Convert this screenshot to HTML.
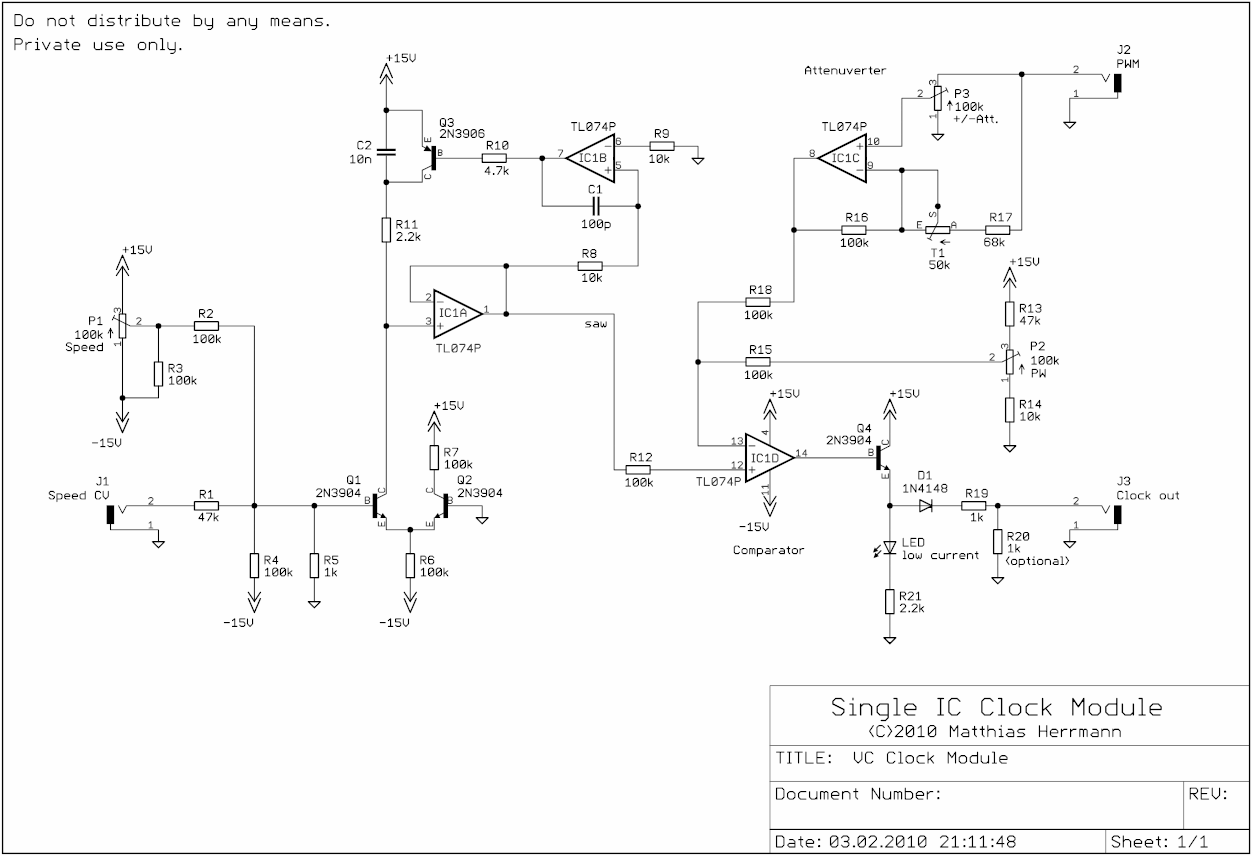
<!DOCTYPE html>
<html><head><meta charset="utf-8"><title>Single IC Clock Module</title>
<style>html,body{margin:0;padding:0;background:#fff;font-family:"Liberation Sans",sans-serif}svg{display:block}</style></head><body>
<svg width="1252" height="856" viewBox="0 0 1252 856">
<title>Single IC Clock Module</title><desc>Single IC Clock Module - (C)2010 Matthias Herrmann - TITLE: VC Clock Module - Document Number: - REV: - Date: 03.02.2010 21:11:48 - Sheet: 1/1. Do not distribute by any means. Private use only. Schematic: J1 Speed CV, P1 100k Speed, R1 47k, R2 100k, R3 100k, R4 100k, R5 1k, R6 100k, R7 100k, Q1 2N3904, Q2 2N3904, Q3 2N3906, C2 10n, R11 2.2k, R10 4.7k, IC1A IC1B IC1C IC1D TL074P, R9 10k, C1 100p, R8 10k, saw, R12 100k, Comparator, Q4 2N3904, D1 1N4148, R19 1k, R20 1k (optional), LED low current, R21 2.2k, J3 Clock out, R18 100k, R15 100k, R13 47k, P2 100k PW, R14 10k, Attenuverter, P3 100k +/-Att., R16 100k, T1 50k, R17 68k, J2 PWM, +15V, -15V</desc>
<defs><filter id="lin" x="0" y="0" width="100%" height="100%" color-interpolation-filters="sRGB"><feComponentTransfer><feFuncR type="gamma" exponent="0.4545"/><feFuncG type="gamma" exponent="0.4545"/><feFuncB type="gamma" exponent="0.4545"/></feComponentTransfer></filter></defs>
<g filter="url(#lin)">
<rect width="1252" height="856" fill="#fdfdfd"/>
<g fill="none" stroke-linecap="round" stroke-linejoin="round">
<path stroke="#222" stroke-width="0.90" d="M769.99 853.38L769.99 685.57L1249.60 685.57M769.99 745.50L1249.60 745.50M769.99 781.46L1249.60 781.46M1105.72 829.40L1105.72 853.38M1183.65 781.46L1183.65 829.40"/>
<path stroke="#000" stroke-width="1.1" d="M769.99 829.40L1249.60 829.40"/>
<path stroke="#000" stroke-width="1.12" d="M386.29 86.27L386.29 74.29M386.29 86.27L386.29 134.22M386.29 134.22L386.29 148.60M386.29 155.79L386.29 170.17M386.29 170.17L386.29 206.13M386.29 110.24L422.26 110.24L422.26 134.22M386.29 182.16L422.26 182.16M446.24 158.19L434.25 158.19M422.26 134.22L422.26 146.20M422.26 182.16L422.26 170.17M422.26 170.17L431.86 165.38M422.26 146.20L425.74 148.12M446.24 158.19L470.23 158.19M470.23 158.19L482.22 158.19M506.20 158.19L518.19 158.19M518.19 158.19L554.16 158.19M626.10 146.20L614.11 146.20M626.10 170.17L614.11 170.17M554.16 158.19L566.15 158.19M605.12 170.17L611.11 170.17M608.12 167.18L608.12 173.17M605.12 146.20L611.11 146.20M626.10 146.20L638.09 146.20M638.09 146.20L650.08 146.20M674.06 146.20L686.05 146.20M686.05 146.20L698.04 146.20M698.04 146.20L698.04 158.19M626.10 170.17L638.09 170.17L638.09 266.06L614.11 266.06M542.17 158.19L542.17 206.13M542.17 206.13L592.53 206.13M599.72 206.13L638.09 206.13M566.15 266.06L578.14 266.06M602.12 266.06L614.11 266.06M566.15 266.06L410.27 266.06L410.27 302.02L422.26 302.02M506.20 266.06L506.20 314.01M422.26 302.02L434.25 302.02M422.26 325.99L434.25 325.99M494.21 314.01L482.22 314.01M437.25 325.99L443.25 325.99M440.25 323.00L440.25 328.99M437.25 302.02L443.25 302.02M494.21 314.01L614.11 314.01L614.11 469.82M386.29 325.99L422.26 325.99M386.29 206.13L386.29 218.12M386.29 242.09L386.29 254.08M386.29 254.08L386.29 481.81M362.31 505.78L374.30 505.78M386.29 481.81L386.29 493.80M386.29 529.75L386.29 517.77M386.29 493.80L376.70 498.59M381.57 515.41L375.74 512.49M458.24 505.78L446.24 505.78M434.25 481.81L434.25 493.80M434.25 529.75L434.25 517.77M434.25 493.80L443.85 498.59M438.98 515.41L444.81 512.49M386.29 529.75L434.25 529.75M410.27 529.75L410.27 541.74M410.27 541.74L410.27 553.73M410.27 577.70L410.27 589.68M410.27 589.68L410.27 601.67M434.25 433.87L434.25 445.85M434.25 469.82L434.25 481.81M434.25 433.87L434.25 421.88M458.24 505.78L482.22 505.78M482.22 505.78L482.22 517.77M146.48 505.78L126.46 505.78M126.46 505.78L122.50 513.21L118.55 505.78M146.48 529.75L110.51 529.75L110.51 523.76M146.48 505.78L182.46 505.78M182.46 505.78L194.45 505.78M218.43 505.78L230.42 505.78M230.42 505.78L362.31 505.78M146.48 529.75L158.48 529.75M158.48 529.75L158.48 541.74M254.40 541.74L254.40 553.73M254.40 577.70L254.40 589.68M254.40 589.68L254.40 601.67M314.35 505.78L314.35 541.74M314.35 541.74L314.35 553.73M314.35 577.70L314.35 589.68M314.35 589.68L314.35 601.67M122.50 302.02L122.50 314.01M122.50 349.96L122.50 337.98M146.48 325.99L130.30 325.99M130.30 325.99L113.63 317.72M112.31 319.88L114.47 315.44M110.51 337.98L110.51 328.39M108.12 333.18L110.51 328.39L112.91 333.18M122.50 278.05L122.50 266.06M122.50 278.05L122.50 302.02M122.50 349.96L122.50 409.89M122.50 409.89L122.50 421.88M146.48 325.99L182.46 325.99M182.46 325.99L194.45 325.99M218.43 325.99L230.42 325.99M230.42 325.99L254.40 325.99L254.40 541.74M158.48 325.99L158.48 349.96M158.48 349.96L158.48 361.95M158.48 385.92L158.48 397.91M158.48 397.91L122.50 397.91M614.11 469.82L626.10 469.82M650.08 469.82L662.07 469.82M662.07 469.82L734.01 469.82M734.01 445.85L746.00 445.85M734.01 469.82L746.00 469.82M805.96 457.84L793.97 457.84M749.00 469.82L755.00 469.82M752.00 466.83L752.00 472.82M749.00 445.85L755.00 445.85M769.99 421.88L769.99 445.85M769.99 493.80L769.99 469.82M769.99 421.88L769.99 409.89M769.99 493.80L769.99 505.78M805.96 457.84L865.91 457.84M865.91 457.84L877.90 457.84M889.89 433.87L889.89 445.85M889.89 481.81L889.89 469.82M889.89 445.85L880.30 450.65M885.17 467.46L879.34 464.55M889.89 421.88L889.89 409.89M889.89 421.88L889.89 433.87M889.89 481.81L889.89 529.75M889.89 529.75L889.89 541.74M889.89 553.73L889.89 565.71M889.89 541.74L889.89 553.73M889.89 565.71L889.89 577.70M889.89 577.70L889.89 589.68M889.89 613.66L889.89 625.64M889.89 625.64L889.89 637.63M889.89 505.78L901.88 505.78M901.88 505.78L949.84 505.78M949.84 505.78L961.83 505.78M985.81 505.78L997.80 505.78M997.80 505.78L1081.74 505.78M997.80 505.78L997.80 517.77M997.80 517.77L997.80 529.75M997.80 553.73L997.80 565.71M997.80 565.71L997.80 577.70M1081.74 505.78L1101.76 505.78M1101.76 505.78L1105.72 513.21L1109.67 505.78M1081.74 529.75L1117.71 529.75L1117.71 523.76M1081.74 529.75L1069.75 529.75M1069.75 529.75L1069.75 541.74M734.01 445.85L698.04 445.85L698.04 302.02L734.01 302.02M734.01 302.02L746.00 302.02M769.99 302.02L781.98 302.02M781.98 302.02L793.97 302.02L793.97 158.19L805.96 158.19M698.04 361.95L734.01 361.95M734.01 361.95L746.00 361.95M769.99 361.95L781.98 361.95M781.98 361.95L985.81 361.95M1009.79 337.98L1009.79 349.96M1009.79 385.92L1009.79 373.94M985.81 361.95L1002.00 361.95M1002.00 361.95L1018.67 353.68M1019.99 355.84L1017.83 351.40M1021.78 373.94L1021.78 364.35M1019.39 369.14L1021.78 364.35L1024.18 369.14M1009.79 290.03L1009.79 302.02M1009.79 325.99L1009.79 337.98M1009.79 290.03L1009.79 278.05M1009.79 385.92L1009.79 397.91M1009.79 421.88L1009.79 433.87M1009.79 433.87L1009.79 445.85M877.90 146.20L865.91 146.20M877.90 170.17L865.91 170.17M805.96 158.19L817.95 158.19M856.92 146.20L862.91 146.20M859.91 143.21L859.91 149.20M856.92 170.17L862.91 170.17M877.90 146.20L901.88 146.20L901.88 98.26L913.87 98.26M937.85 74.29L937.85 86.27M937.85 122.23L937.85 110.24M913.87 98.26L930.06 98.26M930.06 98.26L946.72 89.99M948.04 92.15L945.88 87.71M949.84 110.24L949.84 100.66M947.44 105.45L949.84 100.66L952.24 105.45M937.85 122.23L937.85 134.22M937.85 74.29L1081.74 74.29M1081.74 74.29L1101.76 74.29M1101.76 74.29L1105.72 81.72L1109.67 74.29M1081.74 98.26L1117.71 98.26L1117.71 92.27M1081.74 98.26L1069.75 98.26L1069.75 110.24M1069.75 110.24L1069.75 122.23M1021.78 74.29L1021.78 230.10M973.82 230.10L985.81 230.10M1009.79 230.10L1021.78 230.10M961.83 230.10L973.82 230.10M913.87 230.10L925.86 230.10M961.83 230.10L949.84 230.10M937.85 206.13L937.85 222.31M937.85 222.31L929.58 238.97M927.30 238.01L931.74 240.29M949.84 242.09L940.25 242.09M945.05 239.69L940.25 242.09L945.05 244.49M937.85 206.13L937.85 170.17L877.90 170.17M901.88 170.17L901.88 230.10M913.87 230.10L877.90 230.10M829.94 230.10L841.93 230.10M865.91 230.10L877.90 230.10M829.94 230.10L793.97 230.10"/>
<path stroke="#000" stroke-width="1.50" d="M380.30 83.64L386.29 74.65L392.29 83.64M380.30 77.64L386.29 63.50L392.29 77.64M482.22 154.05L506.20 154.05L506.20 162.32L482.22 162.32ZM650.08 142.07L674.06 142.07L674.06 150.34L650.08 150.34ZM692.05 158.19L704.04 158.19L698.04 164.18ZM578.14 261.93L602.12 261.93L602.12 270.20L578.14 270.20ZM382.16 218.12L390.43 218.12L390.43 242.09L382.16 242.09ZM406.14 553.73L414.41 553.73L414.41 577.70L406.14 577.70ZM404.28 592.32L410.27 601.43L416.27 592.32M404.28 598.67L410.27 612.46L416.27 598.67M430.12 445.85L438.39 445.85L438.39 469.82L430.12 469.82ZM428.26 431.23L434.25 422.24L440.25 431.23M428.26 425.24L434.25 411.09L440.25 425.24M476.22 517.77L488.21 517.77L482.22 523.76ZM194.45 501.65L218.43 501.65L218.43 509.92L194.45 509.92ZM152.48 541.74L164.47 541.74L158.48 547.73ZM250.26 553.73L258.54 553.73L258.54 577.70L250.26 577.70ZM248.40 592.32L254.40 601.43L260.39 592.32M248.40 598.67L254.40 612.46L260.39 598.67M310.21 553.73L318.49 553.73L318.49 577.70L310.21 577.70ZM308.36 601.67L320.35 601.67L314.35 607.66ZM119.21 314.01L125.80 314.01L125.80 337.98L119.21 337.98ZM116.51 275.41L122.50 266.42L128.50 275.41M116.51 269.42L122.50 255.27L128.50 269.42M116.51 412.53L122.50 421.64L128.50 412.53M116.51 418.88L122.50 432.67L128.50 418.88M194.45 321.86L218.43 321.86L218.43 330.13L194.45 330.13ZM154.34 361.95L162.61 361.95L162.61 385.92L154.34 385.92ZM626.10 465.69L650.08 465.69L650.08 473.96L626.10 473.96ZM763.99 419.24L769.99 410.25L775.98 419.24M763.99 413.25L769.99 399.11L775.98 413.25M763.99 496.43L769.99 505.54L775.98 496.43M763.99 502.79L769.99 516.57L775.98 502.79M883.89 419.24L889.89 410.25L895.88 419.24M883.89 413.25L889.89 399.11L895.88 413.25M883.89 541.74L895.88 541.74L889.89 553.73ZM883.89 553.73L895.88 553.73M880.30 545.34L874.30 551.33M880.90 550.73L874.90 556.72M885.75 589.68L894.03 589.68L894.03 613.66L885.75 613.66ZM883.89 637.63L895.88 637.63L889.89 643.62ZM919.87 499.79L931.86 505.78L919.87 511.78ZM931.86 499.79L931.86 511.78M961.83 501.65L985.81 501.65L985.81 509.92L961.83 509.92ZM993.67 529.75L1001.94 529.75L1001.94 553.73L993.67 553.73ZM991.81 577.70L1003.80 577.70L997.80 583.69ZM1063.75 541.74L1075.74 541.74L1069.75 547.73ZM746.00 297.88L769.99 297.88L769.99 306.16L746.00 306.16ZM746.00 357.81L769.99 357.81L769.99 366.09L746.00 366.09ZM1006.50 349.96L1013.09 349.96L1013.09 373.94L1006.50 373.94ZM1005.66 302.02L1013.93 302.02L1013.93 325.99L1005.66 325.99ZM1003.80 287.40L1009.79 278.41L1015.79 287.40M1003.80 281.40L1009.79 267.26L1015.79 281.40M1005.66 397.91L1013.93 397.91L1013.93 421.88L1005.66 421.88ZM1003.80 445.85L1015.79 445.85L1009.79 451.85ZM934.55 86.27L941.15 86.27L941.15 110.24L934.55 110.24ZM931.86 134.22L943.85 134.22L937.85 140.21ZM1063.75 122.23L1075.74 122.23L1069.75 128.22ZM985.81 225.97L1009.79 225.97L1009.79 234.24L985.81 234.24ZM925.86 226.81L949.84 226.81L949.84 233.40L925.86 233.40ZM841.93 225.97L865.91 225.97L865.91 234.24L841.93 234.24Z"/>
<path stroke="#000" stroke-width="2.15" stroke-linejoin="miter" d="M614.11 134.22L614.11 182.16L566.15 158.19ZM434.25 290.03L434.25 337.98L482.22 314.01ZM746.00 433.87L746.00 481.81L793.97 457.84ZM865.91 134.22L865.91 182.16L817.95 158.19Z"/>
<path stroke="#000" stroke-width="1.30" d="M14.95 25.70L14.95 14.70L20.45 14.70L22.28 16.53L22.28 23.87L20.45 25.70L14.95 25.70M27.79 25.70L31.45 25.70L33.29 23.87L33.29 20.20L31.45 18.37L27.79 18.37L25.95 20.20L25.95 23.87L27.79 25.70M47.95 25.70L47.95 18.37M47.95 20.20L49.79 18.37L53.46 18.37L55.29 20.20L55.29 25.70M60.79 25.70L64.46 25.70L66.29 23.87L66.29 20.20L64.46 18.37L60.79 18.37L58.96 20.20L58.96 23.87L60.79 25.70M72.16 15.43L72.16 23.87L73.99 25.70M69.96 18.37L74.18 18.37M96.00 14.70L96.00 25.70L90.49 25.70L88.66 23.87L88.66 20.20L90.49 18.37L96.00 18.37M100.03 18.37L102.05 18.37L102.05 25.70M100.03 25.70L104.06 25.70M102.05 15.62L102.05 14.52M114.51 18.37L109.01 18.37L107.18 20.20L109.01 22.03L112.68 22.03L114.51 23.87L112.68 25.70L107.18 25.70M120.38 15.43L120.38 23.87L122.22 25.70M118.18 18.37L122.40 18.37M125.88 25.70L125.88 18.37M125.88 20.93L128.45 18.37L131.38 18.37M135.42 18.37L137.43 18.37L137.43 25.70M135.42 25.70L139.45 25.70M137.43 15.62L137.43 14.52M142.57 14.70L142.57 25.70L148.07 25.70L149.90 23.87L149.90 20.20L148.07 18.37L142.57 18.37M153.57 18.37L153.57 23.87L155.40 25.70L159.07 25.70L160.90 23.87M160.90 18.37L160.90 25.70M166.77 15.43L166.77 23.87L168.61 25.70M164.57 18.37L168.79 18.37M172.27 22.03L179.61 22.03L179.61 20.20L177.77 18.37L174.11 18.37L172.27 20.20L172.27 23.87L174.11 25.70L178.87 25.70M194.28 14.70L194.28 25.70L199.78 25.70L201.61 23.87L201.61 20.20L199.78 18.37L194.28 18.37M205.28 18.37L205.28 23.87L207.11 25.70L212.61 25.70M212.61 18.37L212.61 27.53L210.78 29.37L208.03 29.37M229.11 18.37L232.78 18.37L234.62 20.20L234.62 25.70L229.11 25.70L227.28 23.87L229.11 22.03L234.62 22.03M238.28 25.70L238.28 18.37M238.28 20.20L240.12 18.37L243.78 18.37L245.62 20.20L245.62 25.70M249.28 18.37L249.28 23.87L251.12 25.70L256.62 25.70M256.62 18.37L256.62 27.53L254.78 29.37L252.03 29.37M271.29 25.70L271.29 18.37L273.85 18.37L274.95 19.47L274.95 25.70M274.95 19.47L276.05 18.37L277.52 18.37L278.62 19.47L278.62 25.70M282.29 22.03L289.62 22.03L289.62 20.20L287.79 18.37L284.12 18.37L282.29 20.20L282.29 23.87L284.12 25.70L288.89 25.70M295.12 18.37L298.79 18.37L300.62 20.20L300.62 25.70L295.12 25.70L293.29 23.87L295.12 22.03L300.62 22.03M304.29 25.70L304.29 18.37M304.29 20.20L306.13 18.37L309.79 18.37L311.63 20.20L311.63 25.70M322.63 18.37L317.13 18.37L315.29 20.20L317.13 22.03L320.79 22.03L322.63 23.87L320.79 25.70L315.29 25.70M327.25 25.66L328.28 25.66L328.28 24.64L327.25 24.64L327.25 25.66M14.95 49.67L14.95 38.67L20.45 38.67L22.28 40.50L22.28 42.34L20.45 44.17L14.95 44.17M25.95 49.67L25.95 42.34M25.95 44.90L28.52 42.34L31.45 42.34M35.49 42.34L37.50 42.34L37.50 49.67M35.49 49.67L39.52 49.67M37.50 39.59L37.50 38.49M42.64 42.34L46.30 49.67L49.97 42.34M55.47 42.34L59.14 42.34L60.97 44.17L60.97 49.67L55.47 49.67L53.64 47.84L55.47 46.00L60.97 46.00M66.84 39.40L66.84 47.84L68.67 49.67M64.64 42.34L68.86 42.34M72.34 46.00L79.68 46.00L79.68 44.17L77.84 42.34L74.18 42.34L72.34 44.17L72.34 47.84L74.18 49.67L78.94 49.67M94.34 42.34L94.34 47.84L96.18 49.67L99.85 49.67L101.68 47.84M101.68 42.34L101.68 49.67M112.68 42.34L107.18 42.34L105.35 44.17L107.18 46.00L110.85 46.00L112.68 47.84L110.85 49.67L105.35 49.67M116.35 46.00L123.68 46.00L123.68 44.17L121.85 42.34L118.18 42.34L116.35 44.17L116.35 47.84L118.18 49.67L122.95 49.67M140.18 49.67L143.85 49.67L145.69 47.84L145.69 44.17L143.85 42.34L140.18 42.34L138.35 44.17L138.35 47.84L140.18 49.67M149.35 49.67L149.35 42.34M149.35 44.17L151.19 42.34L154.85 42.34L156.69 44.17L156.69 49.67M160.54 38.67L162.55 38.67L162.55 49.67M160.54 49.67L164.57 49.67M167.87 42.34L167.87 47.84L169.71 49.67L175.21 49.67M175.21 42.34L175.21 51.50L173.37 53.34L170.62 53.34M179.83 49.63L180.85 49.63L180.85 48.61L179.83 48.61L179.83 49.63M873.27 725.60L869.60 731.10L873.27 736.60M884.29 727.43L882.45 725.60L878.78 725.60L876.94 727.43L876.94 734.77L878.78 736.60L882.45 736.60L884.29 734.77M887.96 725.60L891.63 731.10L887.96 736.60M895.30 727.43L897.14 725.60L900.81 725.60L902.65 727.43L902.65 729.27L895.30 736.60L902.65 736.60M908.15 736.60L911.83 736.60L913.66 734.77L913.66 727.43L911.83 725.60L908.15 725.60L906.32 727.43L906.32 734.77L908.15 736.60M906.32 734.77L913.66 727.43M918.07 728.17L921.19 725.60L921.19 736.60M918.07 736.60L924.31 736.60M930.18 736.60L933.86 736.60L935.69 734.77L935.69 727.43L933.86 725.60L930.18 725.60L928.35 727.43L928.35 734.77L930.18 736.60M928.35 734.77L935.69 727.43M950.38 736.60L950.38 725.60L954.05 731.10L957.72 725.60L957.72 736.60M963.23 729.27L966.90 729.27L968.74 731.10L968.74 736.60L963.23 736.60L961.39 734.77L963.23 732.93L968.74 732.93M974.61 726.33L974.61 734.77L976.45 736.60M972.41 729.27L976.63 729.27M982.32 726.33L982.32 734.77L984.16 736.60M980.12 729.27L984.34 729.27M987.83 725.60L987.83 736.60M987.83 731.10L989.67 729.27L993.34 729.27L995.18 731.10L995.18 736.60M999.21 729.27L1001.23 729.27L1001.23 736.60M999.21 736.60L1003.25 736.60M1001.23 726.52L1001.23 725.42M1008.21 729.27L1011.88 729.27L1013.72 731.10L1013.72 736.60L1008.21 736.60L1006.37 734.77L1008.21 732.93L1013.72 732.93M1024.73 729.27L1019.23 729.27L1017.39 731.10L1019.23 732.93L1022.90 732.93L1024.73 734.77L1022.90 736.60L1017.39 736.60M1039.42 736.60L1039.42 725.60M1046.76 736.60L1046.76 725.60M1039.42 731.10L1046.76 731.10M1050.44 732.93L1057.78 732.93L1057.78 731.10L1055.94 729.27L1052.27 729.27L1050.44 731.10L1050.44 734.77L1052.27 736.60L1057.05 736.60M1061.45 736.60L1061.45 729.27M1061.45 731.83L1064.02 729.27L1066.96 729.27M1070.63 736.60L1070.63 729.27M1070.63 731.83L1073.20 729.27L1076.14 729.27M1079.81 736.60L1079.81 729.27L1082.38 729.27L1083.48 730.37L1083.48 736.60M1083.48 730.37L1084.58 729.27L1086.05 729.27L1087.15 730.37L1087.15 736.60M1092.66 729.27L1096.33 729.27L1098.17 731.10L1098.17 736.60L1092.66 736.60L1090.83 734.77L1092.66 732.93L1098.17 732.93M1101.84 736.60L1101.84 729.27M1101.84 731.10L1103.68 729.27L1107.35 729.27L1109.18 731.10L1109.18 736.60M1112.86 736.60L1112.86 729.27M1112.86 731.10L1114.69 729.27L1118.36 729.27L1120.20 731.10L1120.20 736.60M776.58 752.08L783.92 752.08M780.25 752.08L780.25 763.08M787.58 752.08L791.25 752.08M789.42 752.08L789.42 763.08M787.58 763.08L791.25 763.08M794.92 752.08L802.25 752.08M798.58 752.08L798.58 763.08M805.92 752.08L805.92 763.08L813.25 763.08M824.25 752.08L816.92 752.08L816.92 763.08L824.25 763.08M816.92 757.58L822.42 757.58M829.24 762.68L830.27 762.68L830.27 761.65L829.24 761.65L829.24 762.68M829.24 756.26L830.27 756.26L830.27 755.23L829.24 755.23L829.24 756.26M854.52 752.08L854.52 759.41L858.19 763.08L861.85 759.41L861.85 752.08M872.85 753.91L871.02 752.08L867.35 752.08L865.52 753.91L865.52 761.25L867.35 763.08L871.02 763.08L872.85 761.25M894.86 753.91L893.02 752.08L889.36 752.08L887.52 753.91L887.52 761.25L889.36 763.08L893.02 763.08L894.86 761.25M898.71 752.08L900.73 752.08L900.73 763.08M898.71 763.08L902.74 763.08M907.88 763.08L911.54 763.08L913.38 761.25L913.38 757.58L911.54 755.75L907.88 755.75L906.04 757.58L906.04 761.25L907.88 763.08M924.38 755.75L918.88 755.75L917.04 757.58L917.04 761.25L918.88 763.08L924.38 763.08M928.05 752.08L928.05 763.08M928.05 760.15L933.55 755.75M930.06 758.50L933.55 763.08M948.22 763.08L948.22 752.08L951.88 757.58L955.55 752.08L955.55 763.08M961.05 763.08L964.72 763.08L966.55 761.25L966.55 757.58L964.72 755.75L961.05 755.75L959.22 757.58L959.22 761.25L961.05 763.08M977.55 752.08L977.55 763.08L972.05 763.08L970.22 761.25L970.22 757.58L972.05 755.75L977.55 755.75M981.22 755.75L981.22 761.25L983.05 763.08L986.72 763.08L988.55 761.25M988.55 755.75L988.55 763.08M992.41 752.08L994.42 752.08L994.42 763.08M992.41 763.08L996.44 763.08M999.74 759.41L1007.07 759.41L1007.07 757.58L1005.24 755.75L1001.57 755.75L999.74 757.58L999.74 761.25L1001.57 763.08L1006.34 763.08M776.58 799.04L776.58 788.04L782.08 788.04L783.92 789.87L783.92 797.21L782.08 799.04L776.58 799.04M789.42 799.04L793.08 799.04L794.92 797.21L794.92 793.54L793.08 791.70L789.42 791.70L787.58 793.54L787.58 797.21L789.42 799.04M805.92 791.70L800.42 791.70L798.58 793.54L798.58 797.21L800.42 799.04L805.92 799.04M809.59 791.70L809.59 797.21L811.42 799.04L815.09 799.04L816.92 797.21M816.92 791.70L816.92 799.04M820.59 799.04L820.59 791.70L823.15 791.70L824.25 792.80L824.25 799.04M824.25 792.80L825.35 791.70L826.82 791.70L827.92 792.80L827.92 799.04M831.59 795.37L838.92 795.37L838.92 793.54L837.09 791.70L833.42 791.70L831.59 793.54L831.59 797.21L833.42 799.04L838.19 799.04M842.59 799.04L842.59 791.70M842.59 793.54L844.42 791.70L848.09 791.70L849.92 793.54L849.92 799.04M855.79 788.77L855.79 797.21L857.63 799.04M853.59 791.70L857.81 791.70M872.29 799.04L872.29 788.04L879.63 799.04L879.63 788.04M883.30 791.70L883.30 797.21L885.13 799.04L888.80 799.04L890.63 797.21M890.63 791.70L890.63 799.04M894.30 799.04L894.30 791.70L896.86 791.70L897.97 792.80L897.97 799.04M897.97 792.80L899.07 791.70L900.53 791.70L901.63 792.80L901.63 799.04M905.30 788.04L905.30 799.04L910.80 799.04L912.63 797.21L912.63 793.54L910.80 791.70L905.30 791.70M916.30 795.37L923.64 795.37L923.64 793.54L921.80 791.70L918.13 791.70L916.30 793.54L916.30 797.21L918.13 799.04L922.90 799.04M927.30 799.04L927.30 791.70M927.30 794.27L929.87 791.70L932.80 791.70M937.79 798.64L938.82 798.64L938.82 797.61L937.79 797.61L937.79 798.64M937.79 792.22L938.82 792.22L938.82 791.19L937.79 791.19L937.79 792.22M1190.25 799.04L1190.25 788.04L1195.75 788.04L1197.58 789.87L1197.58 791.70L1195.75 793.54L1190.25 793.54M1193.00 793.54L1197.58 799.04M1208.59 788.04L1201.25 788.04L1201.25 799.04L1208.59 799.04M1201.25 793.54L1206.75 793.54M1212.25 788.04L1212.25 795.37L1215.92 799.04L1219.59 795.37L1219.59 788.04M1224.57 798.64L1225.60 798.64L1225.60 797.61L1224.57 797.61L1224.57 798.64M1224.57 792.22L1225.60 792.22L1225.60 791.19L1224.57 791.19L1224.57 792.22M776.58 846.98L776.58 835.98L782.08 835.98L783.92 837.82L783.92 845.15L782.08 846.98L776.58 846.98M789.42 839.65L793.08 839.65L794.92 841.48L794.92 846.98L789.42 846.98L787.58 845.15L789.42 843.32L794.92 843.32M800.78 836.71L800.78 845.15L802.62 846.98M798.58 839.65L802.80 839.65M806.29 843.32L813.62 843.32L813.62 841.48L811.79 839.65L808.12 839.65L806.29 841.48L806.29 845.15L808.12 846.98L812.89 846.98M818.61 846.58L819.63 846.58L819.63 845.55L818.61 845.55L818.61 846.58M818.61 840.16L819.63 840.16L819.63 839.14L818.61 839.14L818.61 840.16M832.37 846.98L836.04 846.98L837.87 845.15L837.87 837.82L836.04 835.98L832.37 835.98L830.54 837.82L830.54 845.15L832.37 846.98M830.54 845.15L837.87 837.82M841.54 837.82L843.37 835.98L847.04 835.98L848.87 837.82L848.87 839.65L847.04 841.48L844.29 841.48M847.04 841.48L848.87 843.32L848.87 845.15L847.04 846.98L843.37 846.98L841.54 845.15M853.49 846.95L854.52 846.95L854.52 845.92L853.49 845.92L853.49 846.95M859.88 846.98L863.54 846.98L865.38 845.15L865.38 837.82L863.54 835.98L859.88 835.98L858.04 837.82L858.04 845.15L859.88 846.98M858.04 845.15L865.38 837.82M869.04 837.82L870.88 835.98L874.54 835.98L876.38 837.82L876.38 839.65L869.04 846.98L876.38 846.98M881.00 846.95L882.03 846.95L882.03 845.92L881.00 845.92L881.00 846.95M885.55 837.82L887.38 835.98L891.05 835.98L892.88 837.82L892.88 839.65L885.55 846.98L892.88 846.98M898.38 846.98L902.05 846.98L903.88 845.15L903.88 837.82L902.05 835.98L898.38 835.98L896.55 837.82L896.55 845.15L898.38 846.98M896.55 845.15L903.88 837.82M908.28 838.55L911.40 835.98L911.40 846.98M908.28 846.98L914.52 846.98M920.38 846.98L924.05 846.98L925.88 845.15L925.88 837.82L924.05 835.98L920.38 835.98L918.55 837.82L918.55 845.15L920.38 846.98M918.55 845.15L925.88 837.82M940.55 837.82L942.39 835.98L946.05 835.98L947.89 837.82L947.89 839.65L940.55 846.98L947.89 846.98M952.29 838.55L955.41 835.98L955.41 846.98M952.29 846.98L958.52 846.98M963.88 846.58L964.90 846.58L964.90 845.55L963.88 845.55L963.88 846.58M963.88 840.16L964.90 840.16L964.90 839.14L963.88 839.14L963.88 840.16M969.34 838.55L972.46 835.98L972.46 846.98M969.34 846.98L975.58 846.98M980.34 838.55L983.46 835.98L983.46 846.98M980.34 846.98L986.58 846.98M991.93 846.58L992.96 846.58L992.96 845.55L991.93 845.55L991.93 846.58M991.93 840.16L992.96 840.16L992.96 839.14L991.93 839.14L991.93 840.16M1002.16 846.98L1002.16 835.98L996.66 843.68L1004.00 843.68M1009.50 841.48L1007.66 839.65L1007.66 837.82L1009.50 835.98L1013.16 835.98L1015.00 837.82L1015.00 839.65L1013.16 841.48L1009.50 841.48L1007.66 843.32L1007.66 845.15L1009.50 846.98L1013.16 846.98L1015.00 845.15L1015.00 843.32L1013.16 841.48M1119.65 837.82L1117.81 835.98L1114.15 835.98L1112.31 837.82L1112.31 839.65L1119.65 843.32L1119.65 845.15L1117.81 846.98L1114.15 846.98L1112.31 845.15M1123.31 835.98L1123.31 846.98M1123.31 841.48L1125.15 839.65L1128.81 839.65L1130.65 841.48L1130.65 846.98M1134.32 843.32L1141.65 843.32L1141.65 841.48L1139.82 839.65L1136.15 839.65L1134.32 841.48L1134.32 845.15L1136.15 846.98L1140.92 846.98M1145.32 843.32L1152.65 843.32L1152.65 841.48L1150.82 839.65L1147.15 839.65L1145.32 841.48L1145.32 845.15L1147.15 846.98L1151.92 846.98M1158.52 836.71L1158.52 845.15L1160.35 846.98M1156.32 839.65L1160.54 839.65M1165.34 846.58L1166.37 846.58L1166.37 845.55L1165.34 845.55L1165.34 846.58M1165.34 840.16L1166.37 840.16L1166.37 839.14L1165.34 839.14L1165.34 840.16M1178.99 838.55L1182.11 835.98L1182.11 846.98M1178.99 846.98L1185.23 846.98M1189.26 846.98L1196.60 835.98M1201.00 838.55L1204.11 835.98L1204.11 846.98M1201.00 846.98L1207.23 846.98"/>
<path stroke="#000" stroke-width="1.60" d="M843.89 701.25L841.15 698.50L835.65 698.50L832.90 701.25L832.90 704.00L843.89 709.50L843.89 712.25L841.15 715.00L835.65 715.00L832.90 712.25M849.94 704.00L852.97 704.00L852.97 715.00M849.94 715.00L855.99 715.00M852.97 699.87L852.97 698.22M860.66 715.00L860.66 704.00M860.66 706.75L863.41 704.00L868.91 704.00L871.66 706.75L871.66 715.00M888.15 715.00L879.90 715.00L877.15 712.25L877.15 706.75L879.90 704.00L888.15 704.00L888.15 717.75L885.40 720.50L881.28 720.50M893.92 698.50L896.95 698.50L896.95 715.00M893.92 715.00L899.97 715.00M904.92 709.50L915.91 709.50L915.91 706.75L913.16 704.00L907.67 704.00L904.92 706.75L904.92 712.25L907.67 715.00L914.81 715.00M937.90 698.50L943.40 698.50M940.65 698.50L940.65 715.00M937.90 715.00L943.40 715.00M959.89 701.25L957.14 698.50L951.65 698.50L948.90 701.25L948.90 712.25L951.65 715.00L957.14 715.00L959.89 712.25M992.88 701.25L990.13 698.50L984.63 698.50L981.88 701.25L981.88 712.25L984.63 715.00L990.13 715.00L992.88 712.25M998.65 698.50L1001.67 698.50L1001.67 715.00M998.65 715.00L1004.70 715.00M1012.39 715.00L1017.89 715.00L1020.64 712.25L1020.64 706.75L1017.89 704.00L1012.39 704.00L1009.64 706.75L1009.64 712.25L1012.39 715.00M1037.13 704.00L1028.89 704.00L1026.14 706.75L1026.14 712.25L1028.89 715.00L1037.13 715.00M1042.63 698.50L1042.63 715.00M1042.63 710.60L1050.88 704.00M1045.65 708.12L1050.88 715.00M1072.87 715.00L1072.87 698.50L1078.36 706.75L1083.86 698.50L1083.86 715.00M1092.11 715.00L1097.60 715.00L1100.35 712.25L1100.35 706.75L1097.60 704.00L1092.11 704.00L1089.36 706.75L1089.36 712.25L1092.11 715.00M1116.85 698.50L1116.85 715.00L1108.60 715.00L1105.85 712.25L1105.85 706.75L1108.60 704.00L1116.85 704.00M1122.34 704.00L1122.34 712.25L1125.09 715.00L1130.59 715.00L1133.34 712.25M1133.34 704.00L1133.34 715.00M1139.11 698.50L1142.13 698.50L1142.13 715.00M1139.11 715.00L1145.16 715.00M1150.11 709.50L1161.10 709.50L1161.10 706.75L1158.35 704.00L1152.85 704.00L1150.11 706.75L1150.11 712.25L1152.85 715.00L1160.00 715.00"/>
<path stroke="#000" stroke-width="1.22" d="M386.89 57.99L392.03 57.99M389.46 60.55L389.46 55.42M395.11 55.93L397.29 54.13L397.29 61.84M395.11 61.84L399.47 61.84M407.43 54.13L402.30 54.13L402.30 57.34L406.15 57.34L407.43 58.63L407.43 60.55L406.15 61.84L403.58 61.84L402.30 60.55M410.00 54.13L410.00 59.27L412.56 61.84L415.13 59.27L415.13 54.13M123.10 249.76L128.24 249.76M125.67 252.33L125.67 247.19M131.32 247.71L133.50 245.91L133.50 253.61M131.32 253.61L135.68 253.61M143.64 245.91L138.51 245.91L138.51 249.12L142.36 249.12L143.64 250.40L143.64 252.33L142.36 253.61L139.79 253.61L138.51 252.33M146.21 245.91L146.21 251.04L148.77 253.61L151.34 251.04L151.34 245.91M434.85 405.58L439.99 405.58M437.42 408.15L437.42 403.01M443.07 403.53L445.25 401.73L445.25 409.43M443.07 409.43L447.43 409.43M455.39 401.73L450.26 401.73L450.26 404.94L454.11 404.94L455.39 406.22L455.39 408.15L454.11 409.43L451.54 409.43L450.26 408.15M457.96 401.73L457.96 406.86L460.52 409.43L463.09 406.86L463.09 401.73M770.59 393.59L775.72 393.59M773.15 396.16L773.15 391.03M778.80 391.54L780.98 389.74L780.98 397.44M778.80 397.44L783.16 397.44M791.12 389.74L785.99 389.74L785.99 392.95L789.84 392.95L791.12 394.24L791.12 396.16L789.84 397.44L787.27 397.44L785.99 396.16M793.69 389.74L793.69 394.88L796.26 397.44L798.82 394.88L798.82 389.74M890.49 393.59L895.62 393.59M893.06 396.16L893.06 391.03M898.70 391.54L900.89 389.74L900.89 397.44M898.70 397.44L903.07 397.44M911.03 389.74L905.89 389.74L905.89 392.95L909.74 392.95L911.03 394.24L911.03 396.16L909.74 397.44L907.18 397.44L905.89 396.16M913.59 389.74L913.59 394.88L916.16 397.44L918.73 394.88L918.73 389.74M1010.39 261.75L1015.53 261.75M1012.96 264.31L1012.96 259.18M1018.61 259.69L1020.79 257.90L1020.79 265.60M1018.61 265.60L1022.97 265.60M1030.93 257.90L1025.80 257.90L1025.80 261.11L1029.65 261.11L1030.93 262.39L1030.93 264.31L1029.65 265.60L1027.08 265.60L1025.80 264.31M1033.50 257.90L1033.50 263.03L1036.06 265.60L1038.63 263.03L1038.63 257.90M92.47 442.83L97.60 442.83M100.68 440.78L102.86 438.98L102.86 446.68M100.68 446.68L105.05 446.68M113.00 438.98L107.87 438.98L107.87 442.19L111.72 442.19L113.00 443.47L113.00 445.40L111.72 446.68L109.15 446.68L107.87 445.40M115.57 438.98L115.57 444.11L118.14 446.68L120.70 444.11L120.70 438.98M224.36 622.62L229.50 622.62M232.58 620.57L234.76 618.77L234.76 626.47M232.58 626.47L236.94 626.47M244.90 618.77L239.76 618.77L239.76 621.98L243.61 621.98L244.90 623.26L244.90 625.19L243.61 626.47L241.05 626.47L239.76 625.19M247.46 618.77L247.46 623.90L250.03 626.47L252.60 623.90L252.60 618.77M380.24 622.62L385.37 622.62M388.45 620.57L390.63 618.77L390.63 626.47M388.45 626.47L392.81 626.47M400.77 618.77L395.64 618.77L395.64 621.98L399.49 621.98L400.77 623.26L400.77 625.19L399.49 626.47L396.92 626.47L395.64 625.19M403.34 618.77L403.34 623.90L405.91 626.47L408.47 623.90L408.47 618.77M739.95 526.73L745.08 526.73M748.16 524.68L750.34 522.88L750.34 530.58M748.16 530.58L752.53 530.58M760.48 522.88L755.35 522.88L755.35 526.09L759.20 526.09L760.48 527.37L760.48 529.30L759.20 530.58L756.63 530.58L755.35 529.30M763.05 522.88L763.05 528.01L765.62 530.58L768.19 528.01L768.19 522.88M363.00 142.58L361.72 141.30L359.15 141.30L357.86 142.58L357.86 147.72L359.15 149.00L361.72 149.00L363.00 147.72M365.57 142.58L366.85 141.30L369.42 141.30L370.70 142.58L370.70 143.87L365.57 149.00L370.70 149.00M350.68 156.90L352.86 155.10L352.86 162.80M350.68 162.80L355.04 162.80M359.15 162.80L361.72 162.80L363.00 161.52L363.00 156.38L361.72 155.10L359.15 155.10L357.86 156.38L357.86 161.52L359.15 162.80M357.86 161.52L363.00 156.38M365.57 162.80L365.57 157.67M365.57 158.95L366.85 157.67L369.42 157.67L370.70 158.95L370.70 162.80M441.68 126.30L444.25 126.30L445.53 125.02L445.53 119.88L444.25 118.60L441.68 118.60L440.40 119.88L440.40 125.02L441.68 126.30M442.97 123.73L445.53 126.30M448.10 119.88L449.38 118.60L451.95 118.60L453.24 119.88L453.24 121.17L451.95 122.45L450.03 122.45M451.95 122.45L453.24 123.73L453.24 125.02L451.95 126.30L449.38 126.30L448.10 125.02M440.40 130.98L441.68 129.70L444.25 129.70L445.53 130.98L445.53 132.27L440.40 137.40L445.53 137.40M448.10 137.40L448.10 129.70L453.24 137.40L453.24 129.70M455.80 130.98L457.09 129.70L459.65 129.70L460.94 130.98L460.94 132.27L459.65 133.55L457.73 133.55M459.65 133.55L460.94 134.83L460.94 136.12L459.65 137.40L457.09 137.40L455.80 136.12M463.50 136.12L464.79 137.40L467.35 137.40L468.64 136.12L468.64 130.98L467.35 129.70L464.79 129.70L463.50 130.98L463.50 132.91L464.79 134.19L468.64 134.19M472.49 137.40L475.06 137.40L476.34 136.12L476.34 130.98L475.06 129.70L472.49 129.70L471.20 130.98L471.20 136.12L472.49 137.40M471.20 136.12L476.34 130.98M484.04 130.98L482.76 129.70L480.19 129.70L478.91 130.98L478.91 136.12L480.19 137.40L482.76 137.40L484.04 136.12L484.04 134.19L482.76 132.91L478.91 132.91M487.36 149.14L487.36 141.44L491.21 141.44L492.49 142.72L492.49 144.00L491.21 145.29L487.36 145.29M489.28 145.29L492.49 149.14M495.57 143.23L497.75 141.44L497.75 149.14M495.57 149.14L499.93 149.14M504.04 149.14L506.61 149.14L507.89 147.85L507.89 142.72L506.61 141.44L504.04 141.44L502.76 142.72L502.76 147.85L504.04 149.14M502.76 147.85L507.89 142.72M488.86 174.39L488.86 166.69L485.01 172.08L490.14 172.08M493.37 174.36L494.09 174.36L494.09 173.64L493.37 173.64L493.37 174.36M496.56 166.69L501.69 166.69L501.69 167.97L497.84 174.39M504.26 166.69L504.26 174.39M504.26 172.33L508.11 169.25M505.67 171.18L508.11 174.39M571.50 122.70L576.63 122.70M574.07 122.70L574.07 130.40M579.20 122.70L579.20 130.40L584.34 130.40M588.19 130.40L590.75 130.40L592.04 129.12L592.04 123.98L590.75 122.70L588.19 122.70L586.90 123.98L586.90 129.12L588.19 130.40M586.90 129.12L592.04 123.98M594.60 122.70L599.74 122.70L599.74 123.98L595.89 130.40M606.16 130.40L606.16 122.70L602.30 128.09L607.44 128.09M610.01 130.40L610.01 122.70L613.86 122.70L615.14 123.98L615.14 125.27L613.86 126.55L610.01 126.55M655.42 137.35L655.42 129.65L659.27 129.65L660.56 130.93L660.56 132.22L659.27 133.50L655.42 133.50M657.35 133.50L660.56 137.35M663.12 136.07L664.41 137.35L666.97 137.35L668.26 136.07L668.26 130.93L666.97 129.65L664.41 129.65L663.12 130.93L663.12 132.86L664.41 134.14L668.26 134.14M649.99 156.55L652.17 154.75L652.17 162.45M649.99 162.45L654.35 162.45M658.46 162.45L661.02 162.45L662.31 161.17L662.31 156.03L661.02 154.75L658.46 154.75L657.17 156.03L657.17 161.17L658.46 162.45M657.17 161.17L662.31 156.03M664.87 154.75L664.87 162.45M664.87 160.40L668.72 157.32M666.29 159.24L668.72 162.45M594.33 186.58L593.05 185.30L590.48 185.30L589.20 186.58L589.20 191.72L590.48 193.00L593.05 193.00L594.33 191.72M597.41 187.10L599.60 185.30L599.60 193.00M597.41 193.00L601.78 193.00M582.51 221.70L584.70 219.90L584.70 227.60M582.51 227.60L586.88 227.60M590.98 227.60L593.55 227.60L594.84 226.32L594.84 221.18L593.55 219.90L590.98 219.90L589.70 221.18L589.70 226.32L590.98 227.60M589.70 226.32L594.84 221.18M598.69 227.60L601.25 227.60L602.54 226.32L602.54 221.18L601.25 219.90L598.69 219.90L597.40 221.18L597.40 226.32L598.69 227.60M597.40 226.32L602.54 221.18M605.10 230.17L605.10 222.47L608.95 222.47L610.24 223.75L610.24 226.32L608.95 227.60L605.10 227.60M583.08 257.31L583.08 249.61L586.93 249.61L588.21 250.89L588.21 252.18L586.93 253.46L583.08 253.46M585.00 253.46L588.21 257.31M592.06 253.46L590.78 252.18L590.78 250.89L592.06 249.61L594.63 249.61L595.91 250.89L595.91 252.18L594.63 253.46L592.06 253.46L590.78 254.74L590.78 256.03L592.06 257.31L594.63 257.31L595.91 256.03L595.91 254.74L594.63 253.46M582.69 275.41L584.87 273.61L584.87 281.31M582.69 281.31L587.06 281.31M591.16 281.31L593.73 281.31L595.01 280.03L595.01 274.89L593.73 273.61L591.16 273.61L589.88 274.89L589.88 280.03L591.16 281.31M589.88 280.03L595.01 274.89M597.58 273.61L597.58 281.31M597.58 279.26L601.43 276.18M598.99 278.10L601.43 281.31M396.89 228.20L396.89 220.50L400.74 220.50L402.03 221.79L402.03 223.07L400.74 224.35L396.89 224.35M398.82 224.35L402.03 228.20M405.11 222.30L407.29 220.50L407.29 228.20M405.11 228.20L409.47 228.20M412.81 222.30L414.99 220.50L414.99 228.20M412.81 228.20L417.17 228.20M396.89 233.89L398.18 232.60L400.74 232.60L402.03 233.89L402.03 235.17L396.89 240.30L402.03 240.30M405.26 240.28L405.98 240.28L405.98 239.56L405.26 239.56L405.26 240.28M408.44 233.89L409.73 232.60L412.30 232.60L413.58 233.89L413.58 235.17L408.44 240.30L413.58 240.30M416.15 232.60L416.15 240.30M416.15 238.25L420.00 235.17M417.56 237.10L420.00 240.30M590.73 321.87L586.88 321.87L585.60 323.15L586.88 324.43L589.45 324.43L590.73 325.72L589.45 327.00L585.60 327.00M594.58 321.87L597.15 321.87L598.44 323.15L598.44 327.00L594.58 327.00L593.30 325.72L594.58 324.43L598.44 324.43M601.00 321.87L601.00 325.72L602.29 327.00L603.57 325.46L604.85 327.00L606.14 325.72L606.14 321.87M603.57 325.46L603.57 323.79M89.62 324.60L89.62 316.90L93.47 316.90L94.76 318.18L94.76 319.47L93.47 320.75L89.62 320.75M97.84 318.70L100.02 316.90L100.02 324.60M97.84 324.60L102.20 324.60M75.76 332.40L77.94 330.60L77.94 338.30M75.76 338.30L80.12 338.30M84.23 338.30L86.80 338.30L88.08 337.02L88.08 331.88L86.80 330.60L84.23 330.60L82.95 331.88L82.95 337.02L84.23 338.30M82.95 337.02L88.08 331.88M91.93 338.30L94.50 338.30L95.78 337.02L95.78 331.88L94.50 330.60L91.93 330.60L90.65 331.88L90.65 337.02L91.93 338.30M90.65 337.02L95.78 331.88M98.35 330.60L98.35 338.30M98.35 336.25L102.20 333.17M99.76 335.09L102.20 338.30M71.60 344.18L70.31 342.90L67.74 342.90L66.46 344.18L66.46 345.47L71.60 348.03L71.60 349.32L70.31 350.60L67.74 350.60L66.46 349.32M74.16 353.17L74.16 345.47L78.01 345.47L79.30 346.75L79.30 349.32L78.01 350.60L74.16 350.60M81.86 348.03L87.00 348.03L87.00 346.75L85.71 345.47L83.15 345.47L81.86 346.75L81.86 349.32L83.15 350.60L86.48 350.60M89.56 348.03L94.70 348.03L94.70 346.75L93.42 345.47L90.85 345.47L89.56 346.75L89.56 349.32L90.85 350.60L94.19 350.60M102.40 342.90L102.40 350.60L98.55 350.60L97.27 349.32L97.27 346.75L98.55 345.47L102.40 345.47M199.59 317.34L199.59 309.64L203.44 309.64L204.72 310.92L204.72 312.21L203.44 313.49L199.59 313.49M201.51 313.49L204.72 317.34M207.29 310.92L208.57 309.64L211.14 309.64L212.42 310.92L212.42 312.21L207.29 317.34L212.42 317.34M193.90 336.64L196.08 334.84L196.08 342.54M193.90 342.54L198.26 342.54M202.37 342.54L204.94 342.54L206.22 341.26L206.22 336.12L204.94 334.84L202.37 334.84L201.09 336.12L201.09 341.26L202.37 342.54M201.09 341.26L206.22 336.12M210.07 342.54L212.64 342.54L213.92 341.26L213.92 336.12L212.64 334.84L210.07 334.84L208.79 336.12L208.79 341.26L210.07 342.54M208.79 341.26L213.92 336.12M216.49 334.84L216.49 342.54M216.49 340.49L220.34 337.41M217.90 339.33L220.34 342.54M169.08 372.04L169.08 364.33L172.93 364.33L174.21 365.62L174.21 366.90L172.93 368.19L169.08 368.19M171.00 368.19L174.21 372.04M176.78 365.62L178.06 364.33L180.63 364.33L181.91 365.62L181.91 366.90L180.63 368.19L178.70 368.19M180.63 368.19L181.91 369.47L181.91 370.75L180.63 372.04L178.06 372.04L176.78 370.75M169.59 378.23L171.77 376.43L171.77 384.14M169.59 384.14L173.95 384.14M178.06 384.14L180.63 384.14L181.91 382.85L181.91 377.72L180.63 376.43L178.06 376.43L176.78 377.72L176.78 382.85L178.06 384.14M176.78 382.85L181.91 377.72M185.76 384.14L188.33 384.14L189.61 382.85L189.61 377.72L188.33 376.43L185.76 376.43L184.48 377.72L184.48 382.85L185.76 384.14M184.48 382.85L189.61 377.72M192.18 376.43L192.18 384.14M192.18 382.08L196.03 379.00M193.59 380.93L196.03 384.14M99.06 477.30L100.86 477.30L100.86 483.72L99.57 485.00L98.03 485.00L96.75 483.72M103.94 479.10L106.12 477.30L106.12 485.00M103.94 485.00L108.30 485.00M54.39 492.58L53.11 491.30L50.54 491.30L49.26 492.58L49.26 493.87L54.39 496.43L54.39 497.72L53.11 499.00L50.54 499.00L49.26 497.72M56.96 501.57L56.96 493.87L60.81 493.87L62.09 495.15L62.09 497.72L60.81 499.00L56.96 499.00M64.66 496.43L69.79 496.43L69.79 495.15L68.51 493.87L65.94 493.87L64.66 495.15L64.66 497.72L65.94 499.00L69.28 499.00M72.36 496.43L77.50 496.43L77.50 495.15L76.21 493.87L73.64 493.87L72.36 495.15L72.36 497.72L73.64 499.00L76.98 499.00M85.20 491.30L85.20 499.00L81.35 499.00L80.06 497.72L80.06 495.15L81.35 493.87L85.20 493.87M100.60 492.58L99.32 491.30L96.75 491.30L95.46 492.58L95.46 497.72L96.75 499.00L99.32 499.00L100.60 497.72M103.17 491.30L103.17 496.43L105.73 499.00L108.30 496.43L108.30 491.30M200.29 498.13L200.29 490.43L204.14 490.43L205.42 491.71L205.42 493.00L204.14 494.28L200.29 494.28M202.21 494.28L205.42 498.13M208.50 492.23L210.68 490.43L210.68 498.13M208.50 498.13L212.87 498.13M202.64 520.83L202.64 513.13L198.79 518.52L203.92 518.52M206.49 513.13L211.62 513.13L211.62 514.41L207.77 520.83M214.19 513.13L214.19 520.83M214.19 518.78L218.04 515.70M215.60 517.62L218.04 520.83M265.00 563.81L265.00 556.11L268.85 556.11L270.13 557.39L270.13 558.68L268.85 559.96L265.00 559.96M266.92 559.96L270.13 563.81M276.55 563.81L276.55 556.11L272.70 561.50L277.83 561.50M265.51 570.01L267.69 568.21L267.69 575.91M265.51 575.91L269.88 575.91M273.98 575.91L276.55 575.91L277.83 574.63L277.83 569.49L276.55 568.21L273.98 568.21L272.70 569.49L272.70 574.63L273.98 575.91M272.70 574.63L277.83 569.49M281.68 575.91L284.25 575.91L285.53 574.63L285.53 569.49L284.25 568.21L281.68 568.21L280.40 569.49L280.40 574.63L281.68 575.91M280.40 574.63L285.53 569.49M288.10 568.21L288.10 575.91M288.10 573.86L291.95 570.78M289.51 572.70L291.95 575.91M324.95 563.81L324.95 556.11L328.80 556.11L330.08 557.39L330.08 558.68L328.80 559.96L324.95 559.96M326.88 559.96L330.08 563.81M337.79 556.11L332.65 556.11L332.65 559.32L336.50 559.32L337.79 560.60L337.79 562.53L336.50 563.81L333.94 563.81L332.65 562.53M325.46 570.01L327.65 568.21L327.65 575.91M325.46 575.91L329.83 575.91M332.65 568.21L332.65 575.91M332.65 573.86L336.50 570.78M334.06 572.70L336.50 575.91M420.87 563.81L420.87 556.11L424.72 556.11L426.01 557.39L426.01 558.68L424.72 559.96L420.87 559.96M422.80 559.96L426.01 563.81M433.71 557.39L432.43 556.11L429.86 556.11L428.57 557.39L428.57 562.53L429.86 563.81L432.43 563.81L433.71 562.53L433.71 560.60L432.43 559.32L428.57 559.32M421.39 570.01L423.57 568.21L423.57 575.91M421.39 575.91L425.75 575.91M429.86 575.91L432.43 575.91L433.71 574.63L433.71 569.49L432.43 568.21L429.86 568.21L428.57 569.49L428.57 574.63L429.86 575.91M428.57 574.63L433.71 569.49M437.56 575.91L440.13 575.91L441.41 574.63L441.41 569.49L440.13 568.21L437.56 568.21L436.28 569.49L436.28 574.63L437.56 575.91M436.28 574.63L441.41 569.49M443.98 568.21L443.98 575.91M443.98 573.86L447.83 570.78M445.39 572.70L447.83 575.91M444.85 455.94L444.85 448.24L448.70 448.24L449.99 449.52L449.99 450.80L448.70 452.09L444.85 452.09M446.78 452.09L449.99 455.94M452.56 448.24L457.69 448.24L457.69 449.52L453.84 455.94M445.37 462.13L447.55 460.34L447.55 468.04M445.37 468.04L449.73 468.04M453.84 468.04L456.41 468.04L457.69 466.75L457.69 461.62L456.41 460.34L453.84 460.34L452.56 461.62L452.56 466.75L453.84 468.04M452.56 466.75L457.69 461.62M461.54 468.04L464.11 468.04L465.39 466.75L465.39 461.62L464.11 460.34L461.54 460.34L460.26 461.62L460.26 466.75L461.54 468.04M460.26 466.75L465.39 461.62M467.96 460.34L467.96 468.04M467.96 465.98L471.81 462.90M469.37 464.83L471.81 468.04M348.91 483.60L351.47 483.60L352.76 482.32L352.76 477.18L351.47 475.90L348.91 475.90L347.62 477.18L347.62 482.32L348.91 483.60M350.19 481.03L352.76 483.60M355.84 477.70L358.02 475.90L358.02 483.60M355.84 483.60L360.20 483.60M316.56 490.18L317.84 488.90L320.41 488.90L321.69 490.18L321.69 491.47L316.56 496.60L321.69 496.60M324.26 496.60L324.26 488.90L329.40 496.60L329.40 488.90M331.96 490.18L333.25 488.90L335.81 488.90L337.10 490.18L337.10 491.47L335.81 492.75L333.89 492.75M335.81 492.75L337.10 494.03L337.10 495.32L335.81 496.60L333.25 496.60L331.96 495.32M339.66 495.32L340.95 496.60L343.51 496.60L344.80 495.32L344.80 490.18L343.51 488.90L340.95 488.90L339.66 490.18L339.66 492.11L340.95 493.39L344.80 493.39M348.65 496.60L351.22 496.60L352.50 495.32L352.50 490.18L351.22 488.90L348.65 488.90L347.36 490.18L347.36 495.32L348.65 496.60M347.36 495.32L352.50 490.18M358.92 496.60L358.92 488.90L355.07 494.29L360.20 494.29M459.58 483.60L462.15 483.60L463.43 482.32L463.43 477.18L462.15 475.90L459.58 475.90L458.30 477.18L458.30 482.32L459.58 483.60M460.87 481.03L463.43 483.60M466.00 477.18L467.28 475.90L469.85 475.90L471.14 477.18L471.14 478.47L466.00 483.60L471.14 483.60M458.30 490.18L459.58 488.90L462.15 488.90L463.43 490.18L463.43 491.47L458.30 496.60L463.43 496.60M466.00 496.60L466.00 488.90L471.14 496.60L471.14 488.90M473.70 490.18L474.99 488.90L477.55 488.90L478.84 490.18L478.84 491.47L477.55 492.75L475.63 492.75M477.55 492.75L478.84 494.03L478.84 495.32L477.55 496.60L474.99 496.60L473.70 495.32M481.40 495.32L482.69 496.60L485.25 496.60L486.54 495.32L486.54 490.18L485.25 488.90L482.69 488.90L481.40 490.18L481.40 492.11L482.69 493.39L486.54 493.39M490.39 496.60L492.96 496.60L494.24 495.32L494.24 490.18L492.96 488.90L490.39 488.90L489.10 490.18L489.10 495.32L490.39 496.60M489.10 495.32L494.24 490.18M500.66 496.60L500.66 488.90L496.81 494.29L501.94 494.29M630.84 460.97L630.84 453.27L634.69 453.27L635.98 454.56L635.98 455.84L634.69 457.12L630.84 457.12M632.77 457.12L635.98 460.97M639.06 455.07L641.24 453.27L641.24 460.97M639.06 460.97L643.42 460.97M646.24 454.56L647.53 453.27L650.09 453.27L651.38 454.56L651.38 455.84L646.24 460.97L651.38 460.97M626.05 480.27L628.24 478.47L628.24 486.17M626.05 486.17L630.42 486.17M634.53 486.17L637.09 486.17L638.38 484.89L638.38 479.76L637.09 478.47L634.53 478.47L633.24 479.76L633.24 484.89L634.53 486.17M633.24 484.89L638.38 479.76M642.23 486.17L644.79 486.17L646.08 484.89L646.08 479.76L644.79 478.47L642.23 478.47L640.94 479.76L640.94 484.89L642.23 486.17M640.94 484.89L646.08 479.76M648.64 478.47L648.64 486.17M648.64 484.12L652.50 481.04M650.06 482.97L652.50 486.17M739.43 547.28L738.15 546.00L735.58 546.00L734.30 547.28L734.30 552.42L735.58 553.70L738.15 553.70L739.43 552.42M743.28 553.70L745.85 553.70L747.14 552.42L747.14 549.85L745.85 548.57L743.28 548.57L742.00 549.85L742.00 552.42L743.28 553.70M749.70 553.70L749.70 548.57L751.50 548.57L752.27 549.34L752.27 553.70M752.27 549.34L753.04 548.57L754.07 548.57L754.84 549.34L754.84 553.70M757.40 556.27L757.40 548.57L761.25 548.57L762.54 549.85L762.54 552.42L761.25 553.70L757.40 553.70M766.39 548.57L768.96 548.57L770.24 549.85L770.24 553.70L766.39 553.70L765.10 552.42L766.39 551.13L770.24 551.13M772.81 553.70L772.81 548.57M772.81 550.36L774.60 548.57L776.66 548.57M780.51 548.57L783.07 548.57L784.36 549.85L784.36 553.70L780.51 553.70L779.22 552.42L780.51 551.13L784.36 551.13M788.46 546.51L788.46 552.42L789.75 553.70M786.92 548.57L789.88 548.57M793.60 553.70L796.17 553.70L797.45 552.42L797.45 549.85L796.17 548.57L793.60 548.57L792.32 549.85L792.32 552.42L793.60 553.70M800.02 553.70L800.02 548.57M800.02 550.36L801.81 548.57L803.87 548.57M859.25 432.00L861.82 432.00L863.10 430.72L863.10 425.58L861.82 424.30L859.25 424.30L857.96 425.58L857.96 430.72L859.25 432.00M860.53 429.43L863.10 432.00M869.52 432.00L869.52 424.30L865.67 429.69L870.80 429.69M827.16 437.48L828.44 436.20L831.01 436.20L832.29 437.48L832.29 438.77L827.16 443.90L832.29 443.90M834.86 443.90L834.86 436.20L840.00 443.90L840.00 436.20M842.56 437.48L843.85 436.20L846.41 436.20L847.70 437.48L847.70 438.77L846.41 440.05L844.49 440.05M846.41 440.05L847.70 441.33L847.70 442.62L846.41 443.90L843.85 443.90L842.56 442.62M850.26 442.62L851.55 443.90L854.11 443.90L855.40 442.62L855.40 437.48L854.11 436.20L851.55 436.20L850.26 437.48L850.26 439.41L851.55 440.69L855.40 440.69M859.25 443.90L861.82 443.90L863.10 442.62L863.10 437.48L861.82 436.20L859.25 436.20L857.96 437.48L857.96 442.62L859.25 443.90M857.96 442.62L863.10 437.48M869.52 443.90L869.52 436.20L865.67 441.59L870.80 441.59M918.80 479.00L918.80 471.30L922.65 471.30L923.93 472.58L923.93 477.72L922.65 479.00L918.80 479.00M927.01 473.10L929.20 471.30L929.20 479.00M927.01 479.00L931.38 479.00M903.71 486.20L905.90 484.40L905.90 492.10M903.71 492.10L908.08 492.10M910.90 492.10L910.90 484.40L916.04 492.10L916.04 484.40M922.45 492.10L922.45 484.40L918.60 489.79L923.74 489.79M926.82 486.20L929.00 484.40L929.00 492.10M926.82 492.10L931.18 492.10M937.86 492.10L937.86 484.40L934.00 489.79L939.14 489.79M942.99 488.25L941.71 486.97L941.71 485.68L942.99 484.40L945.56 484.40L946.84 485.68L946.84 486.97L945.56 488.25L942.99 488.25L941.71 489.53L941.71 490.82L942.99 492.10L945.56 492.10L946.84 490.82L946.84 489.53L945.56 488.25M966.67 497.03L966.67 489.33L970.52 489.33L971.81 490.61L971.81 491.90L970.52 493.18L966.67 493.18M968.60 493.18L971.81 497.03M974.89 491.13L977.07 489.33L977.07 497.03M974.89 497.03L979.25 497.03M982.07 495.75L983.36 497.03L985.93 497.03L987.21 495.75L987.21 490.61L985.93 489.33L983.36 489.33L982.07 490.61L982.07 492.54L983.36 493.82L987.21 493.82M971.49 515.03L973.67 513.23L973.67 520.93M971.49 520.93L975.85 520.93M978.67 513.23L978.67 520.93M978.67 518.88L982.52 515.80M980.09 517.72L982.52 520.93M903.20 538.40L903.20 546.10L908.33 546.10M916.04 538.40L910.90 538.40L910.90 546.10L916.04 546.10M910.90 542.25L914.75 542.25M918.60 546.10L918.60 538.40L922.45 538.40L923.74 539.68L923.74 544.82L922.45 546.10L918.60 546.10M903.33 551.00L904.74 551.00L904.74 558.70M903.33 558.70L906.15 558.70M909.75 558.70L912.31 558.70L913.60 557.42L913.60 554.85L912.31 553.57L909.75 553.57L908.46 554.85L908.46 557.42L909.75 558.70M916.16 553.57L916.16 557.42L917.45 558.70L918.73 557.16L920.01 558.70L921.30 557.42L921.30 553.57M918.73 557.16L918.73 555.49M936.70 553.57L932.85 553.57L931.57 554.85L931.57 557.42L932.85 558.70L936.70 558.70M939.27 553.57L939.27 557.42L940.55 558.70L943.12 558.70L944.40 557.42M944.40 553.57L944.40 558.70M946.97 558.70L946.97 553.57M946.97 555.36L948.76 553.57L950.82 553.57M953.39 558.70L953.39 553.57M953.39 555.36L955.18 553.57L957.24 553.57M959.80 556.13L964.94 556.13L964.94 554.85L963.65 553.57L961.09 553.57L959.80 554.85L959.80 557.42L961.09 558.70L964.42 558.70M967.50 558.70L967.50 553.57M967.50 554.85L968.79 553.57L971.35 553.57L972.64 554.85L972.64 558.70M976.75 551.51L976.75 557.42L978.03 558.70M975.21 553.57L978.16 553.57M1008.10 540.20L1008.10 532.50L1011.95 532.50L1013.23 533.78L1013.23 535.07L1011.95 536.35L1008.10 536.35M1010.03 536.35L1013.23 540.20M1015.80 533.78L1017.08 532.50L1019.65 532.50L1020.94 533.78L1020.94 535.07L1015.80 540.20L1020.94 540.20M1024.79 540.20L1027.35 540.20L1028.64 538.92L1028.64 533.78L1027.35 532.50L1024.79 532.50L1023.50 533.78L1023.50 538.92L1024.79 540.20M1023.50 538.92L1028.64 533.78M1008.61 546.10L1010.80 544.30L1010.80 552.00M1008.61 552.00L1012.98 552.00M1015.80 544.30L1015.80 552.00M1015.80 549.95L1019.65 546.87M1017.21 548.79L1019.65 552.00M1008.97 556.80L1006.40 560.65L1008.97 564.50M1012.82 564.50L1015.38 564.50L1016.67 563.22L1016.67 560.65L1015.38 559.37L1012.82 559.37L1011.53 560.65L1011.53 563.22L1012.82 564.50M1019.24 567.07L1019.24 559.37L1023.09 559.37L1024.37 560.65L1024.37 563.22L1023.09 564.50L1019.24 564.50M1028.48 557.31L1028.48 563.22L1029.76 564.50M1026.94 559.37L1029.89 559.37M1032.58 559.37L1034.00 559.37L1034.00 564.50M1032.58 564.50L1035.41 564.50M1034.00 557.44L1034.00 556.67M1038.87 564.50L1041.44 564.50L1042.72 563.22L1042.72 560.65L1041.44 559.37L1038.87 559.37L1037.59 560.65L1037.59 563.22L1038.87 564.50M1045.29 564.50L1045.29 559.37M1045.29 560.65L1046.57 559.37L1049.14 559.37L1050.42 560.65L1050.42 564.50M1054.28 559.37L1056.84 559.37L1058.13 560.65L1058.13 564.50L1054.28 564.50L1052.99 563.22L1054.28 561.93L1058.13 561.93M1060.82 556.80L1062.23 556.80L1062.23 564.50M1060.82 564.50L1063.64 564.50M1065.96 556.80L1068.52 560.65L1065.96 564.50M900.49 599.77L900.49 592.07L904.34 592.07L905.62 593.35L905.62 594.64L904.34 595.92L900.49 595.92M902.41 595.92L905.62 599.77M908.19 593.35L909.47 592.07L912.04 592.07L913.32 593.35L913.32 594.64L908.19 599.77L913.32 599.77M916.41 593.87L918.59 592.07L918.59 599.77M916.41 599.77L920.77 599.77M900.49 605.45L901.77 604.17L904.34 604.17L905.62 605.45L905.62 606.74L900.49 611.87L905.62 611.87M908.86 611.84L909.58 611.84L909.58 611.13L908.86 611.13L908.86 611.84M912.04 605.45L913.32 604.17L915.89 604.17L917.18 605.45L917.18 606.74L912.04 611.87L917.18 611.87M919.74 604.17L919.74 611.87M919.74 609.82L923.59 606.74M921.15 608.66L923.59 611.87M1120.11 477.20L1121.91 477.20L1121.91 483.62L1120.62 484.90L1119.08 484.90L1117.80 483.62M1124.47 478.48L1125.76 477.20L1128.32 477.20L1129.61 478.48L1129.61 479.77L1128.32 481.05L1126.40 481.05M1128.32 481.05L1129.61 482.33L1129.61 483.62L1128.32 484.90L1125.76 484.90L1124.47 483.62M1122.93 492.58L1121.65 491.30L1119.08 491.30L1117.80 492.58L1117.80 497.72L1119.08 499.00L1121.65 499.00L1122.93 497.72M1125.63 491.30L1127.04 491.30L1127.04 499.00M1125.63 499.00L1128.45 499.00M1132.05 499.00L1134.61 499.00L1135.90 497.72L1135.90 495.15L1134.61 493.87L1132.05 493.87L1130.76 495.15L1130.76 497.72L1132.05 499.00M1143.60 493.87L1139.75 493.87L1138.46 495.15L1138.46 497.72L1139.75 499.00L1143.60 499.00M1146.17 491.30L1146.17 499.00M1146.17 496.95L1150.02 493.87M1147.58 495.79L1150.02 499.00M1161.57 499.00L1164.14 499.00L1165.42 497.72L1165.42 495.15L1164.14 493.87L1161.57 493.87L1160.28 495.15L1160.28 497.72L1161.57 499.00M1167.99 493.87L1167.99 497.72L1169.27 499.00L1171.84 499.00L1173.12 497.72M1173.12 493.87L1173.12 499.00M1177.23 491.81L1177.23 497.72L1178.51 499.00M1175.69 493.87L1178.64 493.87M750.55 293.47L750.55 285.77L754.40 285.77L755.68 287.05L755.68 288.34L754.40 289.62L750.55 289.62M752.47 289.62L755.68 293.47M758.76 287.57L760.94 285.77L760.94 293.47M758.76 293.47L763.12 293.47M767.23 289.62L765.95 288.34L765.95 287.05L767.23 285.77L769.80 285.77L771.08 287.05L771.08 288.34L769.80 289.62L767.23 289.62L765.95 290.90L765.95 292.19L767.23 293.47L769.80 293.47L771.08 292.19L771.08 290.90L769.80 289.62M745.46 312.62L747.64 310.82L747.64 318.52M745.46 318.52L749.82 318.52M753.93 318.52L756.50 318.52L757.78 317.24L757.78 312.10L756.50 310.82L753.93 310.82L752.65 312.10L752.65 317.24L753.93 318.52M752.65 317.24L757.78 312.10M761.63 318.52L764.20 318.52L765.48 317.24L765.48 312.10L764.20 310.82L761.63 310.82L760.35 312.10L760.35 317.24L761.63 318.52M760.35 317.24L765.48 312.10M768.05 310.82L768.05 318.52M768.05 316.47L771.90 313.39M769.46 315.31L771.90 318.52M750.55 353.40L750.55 345.70L754.40 345.70L755.68 346.98L755.68 348.27L754.40 349.55L750.55 349.55M752.47 349.55L755.68 353.40M758.76 347.50L760.94 345.70L760.94 353.40M758.76 353.40L763.12 353.40M771.08 345.70L765.95 345.70L765.95 348.91L769.80 348.91L771.08 350.19L771.08 352.12L769.80 353.40L767.23 353.40L765.95 352.12M745.46 372.60L747.64 370.80L747.64 378.50M745.46 378.50L749.82 378.50M753.93 378.50L756.50 378.50L757.78 377.22L757.78 372.08L756.50 370.80L753.93 370.80L752.65 372.08L752.65 377.22L753.93 378.50M752.65 377.22L757.78 372.08M761.63 378.50L764.20 378.50L765.48 377.22L765.48 372.08L764.20 370.80L761.63 370.80L760.35 372.08L760.35 377.22L761.63 378.50M760.35 377.22L765.48 372.08M768.05 370.80L768.05 378.50M768.05 376.45L771.90 373.37M769.46 375.29L771.90 378.50M1020.39 312.11L1020.39 304.40L1024.24 304.40L1025.53 305.69L1025.53 306.97L1024.24 308.26L1020.39 308.26M1022.32 308.26L1025.53 312.11M1028.61 306.20L1030.79 304.40L1030.79 312.11M1028.61 312.11L1032.97 312.11M1035.80 305.69L1037.08 304.40L1039.65 304.40L1040.93 305.69L1040.93 306.97L1039.65 308.26L1037.72 308.26M1039.65 308.26L1040.93 309.54L1040.93 310.82L1039.65 312.11L1037.08 312.11L1035.80 310.82M1024.24 324.21L1024.24 316.50L1020.39 321.90L1025.53 321.90M1028.09 316.50L1033.23 316.50L1033.23 317.79L1029.38 324.21M1035.80 316.50L1035.80 324.21M1035.80 322.15L1039.65 319.07M1037.21 321.00L1039.65 324.21M1020.39 407.99L1020.39 400.29L1024.24 400.29L1025.53 401.58L1025.53 402.86L1024.24 404.14L1020.39 404.14M1022.32 404.14L1025.53 407.99M1028.61 402.09L1030.79 400.29L1030.79 407.99M1028.61 407.99L1032.97 407.99M1039.65 407.99L1039.65 400.29L1035.80 405.68L1040.93 405.68M1020.91 414.19L1023.09 412.39L1023.09 420.09M1020.91 420.09L1025.27 420.09M1029.38 420.09L1031.95 420.09L1033.23 418.81L1033.23 413.68L1031.95 412.39L1029.38 412.39L1028.09 413.68L1028.09 418.81L1029.38 420.09M1028.09 418.81L1033.23 413.68M1035.80 412.39L1035.80 420.09M1035.80 418.04L1039.65 414.96M1037.21 416.89L1039.65 420.09M1031.40 349.90L1031.40 342.20L1035.25 342.20L1036.53 343.48L1036.53 344.77L1035.25 346.05L1031.40 346.05M1039.10 343.48L1040.38 342.20L1042.95 342.20L1044.24 343.48L1044.24 344.77L1039.10 349.90L1044.24 349.90M1031.91 358.30L1034.10 356.50L1034.10 364.20M1031.91 364.20L1036.28 364.20M1040.38 364.20L1042.95 364.20L1044.24 362.92L1044.24 357.78L1042.95 356.50L1040.38 356.50L1039.10 357.78L1039.10 362.92L1040.38 364.20M1039.10 362.92L1044.24 357.78M1048.09 364.20L1050.65 364.20L1051.94 362.92L1051.94 357.78L1050.65 356.50L1048.09 356.50L1046.80 357.78L1046.80 362.92L1048.09 364.20M1046.80 362.92L1051.94 357.78M1054.50 356.50L1054.50 364.20M1054.50 362.15L1058.35 359.07M1055.92 360.99L1058.35 364.20M1032.30 377.10L1032.30 369.40L1036.15 369.40L1037.43 370.68L1037.43 371.97L1036.15 373.25L1032.30 373.25M1040.00 369.40L1040.00 377.10L1042.57 373.25L1045.14 377.10L1045.14 369.40M805.60 74.00L805.60 68.87L808.17 66.30L810.73 68.87L810.73 74.00M805.60 70.79L810.73 70.79M814.84 66.81L814.84 72.72L816.12 74.00M813.30 68.87L816.25 68.87M820.23 66.81L820.23 72.72L821.52 74.00M818.69 68.87L821.64 68.87M824.08 71.43L829.22 71.43L829.22 70.15L827.93 68.87L825.37 68.87L824.08 70.15L824.08 72.72L825.37 74.00L828.70 74.00M831.78 74.00L831.78 68.87M831.78 70.15L833.07 68.87L835.63 68.87L836.92 70.15L836.92 74.00M839.48 68.87L839.48 72.72L840.77 74.00L843.34 74.00L844.62 72.72M844.62 68.87L844.62 74.00M847.19 68.87L849.75 74.00L852.32 68.87M854.89 71.43L860.02 71.43L860.02 70.15L858.74 68.87L856.17 68.87L854.89 70.15L854.89 72.72L856.17 74.00L859.51 74.00M862.59 74.00L862.59 68.87M862.59 70.66L864.39 68.87L866.44 68.87M870.55 66.81L870.55 72.72L871.83 74.00M869.01 68.87L871.96 68.87M874.40 71.43L879.53 71.43L879.53 70.15L878.25 68.87L875.68 68.87L874.40 70.15L874.40 72.72L875.68 74.00L879.02 74.00M882.10 74.00L882.10 68.87M882.10 70.66L883.89 68.87L885.95 68.87M822.50 122.70L827.63 122.70M825.07 122.70L825.07 130.40M830.20 122.70L830.20 130.40L835.34 130.40M839.19 130.40L841.75 130.40L843.04 129.12L843.04 123.98L841.75 122.70L839.19 122.70L837.90 123.98L837.90 129.12L839.19 130.40M837.90 129.12L843.04 123.98M845.60 122.70L850.74 122.70L850.74 123.98L846.89 130.40M857.16 130.40L857.16 122.70L853.30 128.09L858.44 128.09M861.01 130.40L861.01 122.70L864.86 122.70L866.14 123.98L866.14 125.27L864.86 126.55L861.01 126.55M846.77 221.15L846.77 213.45L850.62 213.45L851.90 214.74L851.90 216.02L850.62 217.30L846.77 217.30M848.69 217.30L851.90 221.15M854.98 215.25L857.16 213.45L857.16 221.15M854.98 221.15L859.35 221.15M867.30 214.74L866.02 213.45L863.45 213.45L862.17 214.74L862.17 219.87L863.45 221.15L866.02 221.15L867.30 219.87L867.30 217.95L866.02 216.66L862.17 216.66M841.38 240.45L843.56 238.65L843.56 246.35M841.38 246.35L845.75 246.35M849.85 246.35L852.42 246.35L853.70 245.07L853.70 239.94L852.42 238.65L849.85 238.65L848.57 239.94L848.57 245.07L849.85 246.35M848.57 245.07L853.70 239.94M857.55 246.35L860.12 246.35L861.40 245.07L861.40 239.94L860.12 238.65L857.55 238.65L856.27 239.94L856.27 245.07L857.55 246.35M856.27 245.07L861.40 239.94M863.97 238.65L863.97 246.35M863.97 244.30L867.82 241.22M865.38 243.15L867.82 246.35M990.75 220.95L990.75 213.25L994.60 213.25L995.89 214.54L995.89 215.82L994.60 217.10L990.75 217.10M992.68 217.10L995.89 220.95M998.97 215.05L1001.15 213.25L1001.15 220.95M998.97 220.95L1003.33 220.95M1006.16 213.25L1011.29 213.25L1011.29 214.54L1007.44 220.95M989.89 239.44L988.60 238.15L986.04 238.15L984.75 239.44L984.75 244.57L986.04 245.85L988.60 245.85L989.89 244.57L989.89 242.65L988.60 241.36L984.75 241.36M993.74 242.00L992.45 240.72L992.45 239.44L993.74 238.15L996.30 238.15L997.59 239.44L997.59 240.72L996.30 242.00L993.74 242.00L992.45 243.29L992.45 244.57L993.74 245.85L996.30 245.85L997.59 244.57L997.59 243.29L996.30 242.00M1000.16 238.15L1000.16 245.85M1000.16 243.80L1004.01 240.72M1001.57 242.65L1004.01 245.85M931.50 249.00L936.63 249.00M934.07 249.00L934.07 256.70M939.71 250.80L941.90 249.00L941.90 256.70M939.71 256.70L944.08 256.70M935.03 260.90L929.90 260.90L929.90 264.11L933.75 264.11L935.03 265.39L935.03 267.32L933.75 268.60L931.18 268.60L929.90 267.32M938.88 268.60L941.45 268.60L942.74 267.32L942.74 262.18L941.45 260.90L938.88 260.90L937.60 262.18L937.60 267.32L938.88 268.60M937.60 267.32L942.74 262.18M945.30 260.90L945.30 268.60M945.30 266.55L949.15 263.47M946.71 265.39L949.15 268.60M955.60 97.40L955.60 89.70L959.45 89.70L960.73 90.98L960.73 92.27L959.45 93.55L955.60 93.55M963.30 90.98L964.58 89.70L967.15 89.70L968.44 90.98L968.44 92.27L967.15 93.55L965.23 93.55M967.15 93.55L968.44 94.83L968.44 96.12L967.15 97.40L964.58 97.40L963.30 96.12M956.11 104.40L958.30 102.60L958.30 110.30M956.11 110.30L960.48 110.30M964.58 110.30L967.15 110.30L968.44 109.02L968.44 103.88L967.15 102.60L964.58 102.60L963.30 103.88L963.30 109.02L964.58 110.30M963.30 109.02L968.44 103.88M972.29 110.30L974.85 110.30L976.14 109.02L976.14 103.88L974.85 102.60L972.29 102.60L971.00 103.88L971.00 109.02L972.29 110.30M971.00 109.02L976.14 103.88M978.70 102.60L978.70 110.30M978.70 108.25L982.55 105.17M980.12 107.09L982.55 110.30M954.20 118.75L959.33 118.75M956.77 121.32L956.77 116.18M961.90 122.60L967.04 114.90M969.60 118.75L974.74 118.75M977.30 122.60L977.30 117.47L979.87 114.90L982.44 117.47L982.44 122.60M977.30 119.39L982.44 119.39M986.54 115.41L986.54 121.32L987.83 122.60M985.00 117.47L987.96 117.47M991.94 115.41L991.94 121.32L993.22 122.60M990.40 117.47L993.35 117.47M996.45 122.57L997.17 122.57L997.17 121.86L996.45 121.86L996.45 122.57M1120.11 45.70L1121.91 45.70L1121.91 52.12L1120.62 53.40L1119.08 53.40L1117.80 52.12M1124.47 46.98L1125.76 45.70L1128.32 45.70L1129.61 46.98L1129.61 48.27L1124.47 53.40L1129.61 53.40M1117.80 67.50L1117.80 59.80L1121.65 59.80L1122.93 61.08L1122.93 62.37L1121.65 63.65L1117.80 63.65M1125.50 59.80L1125.50 67.50L1128.07 63.65L1130.64 67.50L1130.64 59.80M1133.20 67.50L1133.20 59.80L1135.77 63.65L1138.34 59.80L1138.34 67.50"/>
<path stroke="#0a0a0a" stroke-width="1.22" d="M580.00 153.80L582.57 153.80M581.28 153.80L581.28 161.50M580.00 161.50L582.57 161.50M590.27 155.08L588.98 153.80L586.42 153.80L585.13 155.08L585.13 160.22L586.42 161.50L588.98 161.50L590.27 160.22M593.35 155.60L595.53 153.80L595.53 161.50M593.35 161.50L597.71 161.50M600.54 161.50L600.54 153.80L604.39 153.80L605.67 155.08L605.67 156.37L604.39 157.65L600.54 157.65M604.39 157.65L605.67 158.93L605.67 160.22L604.39 161.50L600.54 161.50M440.30 308.80L442.87 308.80M441.58 308.80L441.58 316.50M440.30 316.50L442.87 316.50M450.57 310.08L449.28 308.80L446.72 308.80L445.43 310.08L445.43 315.22L446.72 316.50L449.28 316.50L450.57 315.22M453.65 310.60L455.83 308.80L455.83 316.50M453.65 316.50L458.01 316.50M460.84 316.50L460.84 311.37L463.40 308.80L465.97 311.37L465.97 316.50M460.84 313.29L465.97 313.29M436.60 344.30L441.73 344.30M439.17 344.30L439.17 352.00M444.30 344.30L444.30 352.00L449.44 352.00M453.29 352.00L455.85 352.00L457.14 350.72L457.14 345.58L455.85 344.30L453.29 344.30L452.00 345.58L452.00 350.72L453.29 352.00M452.00 350.72L457.14 345.58M459.70 344.30L464.84 344.30L464.84 345.58L460.99 352.00M471.26 352.00L471.26 344.30L467.40 349.69L472.54 349.69M475.11 352.00L475.11 344.30L478.96 344.30L480.24 345.58L480.24 346.87L478.96 348.15L475.11 348.15M752.20 454.20L754.77 454.20M753.48 454.20L753.48 461.90M752.20 461.90L754.77 461.90M762.47 455.48L761.18 454.20L758.62 454.20L757.33 455.48L757.33 460.62L758.62 461.90L761.18 461.90L762.47 460.62M765.55 456.00L767.73 454.20L767.73 461.90M765.55 461.90L769.91 461.90M772.74 461.90L772.74 454.20L776.59 454.20L777.87 455.48L777.87 460.62L776.59 461.90L772.74 461.90M696.70 477.60L701.83 477.60M699.27 477.60L699.27 485.30M704.40 477.60L704.40 485.30L709.54 485.30M713.39 485.30L715.95 485.30L717.24 484.02L717.24 478.88L715.95 477.60L713.39 477.60L712.10 478.88L712.10 484.02L713.39 485.30M712.10 484.02L717.24 478.88M719.80 477.60L724.94 477.60L724.94 478.88L721.09 485.30M731.36 485.30L731.36 477.60L727.50 482.99L732.64 482.99M735.21 485.30L735.21 477.60L739.06 477.60L740.34 478.88L740.34 480.17L739.06 481.45L735.21 481.45M833.00 154.00L835.57 154.00M834.28 154.00L834.28 161.70M833.00 161.70L835.57 161.70M843.27 155.28L841.98 154.00L839.42 154.00L838.13 155.28L838.13 160.42L839.42 161.70L841.98 161.70L843.27 160.42M846.35 155.80L848.53 154.00L848.53 161.70M846.35 161.70L850.71 161.70M858.67 155.28L857.39 154.00L854.82 154.00L853.54 155.28L853.54 160.42L854.82 161.70L857.39 161.70L858.67 160.42"/>
<path stroke="#0a0a0a" stroke-width="1.10" d="M558.27 150.07L562.55 150.07L562.55 151.14L559.34 156.49M620.59 139.15L619.52 138.08L617.38 138.08L616.31 139.15L616.31 143.43L617.38 144.50L619.52 144.50L620.59 143.43L620.59 141.83L619.52 140.76L616.31 140.76M620.59 162.06L616.31 162.06L616.31 164.73L619.52 164.73L620.59 165.80L620.59 167.40L619.52 168.47L617.38 168.47L616.31 167.40M426.38 294.97L427.45 293.90L429.58 293.90L430.65 294.97L430.65 296.04L426.38 300.32L430.65 300.32M426.38 318.94L427.45 317.87L429.58 317.87L430.65 318.94L430.65 320.01L429.58 321.08L427.98 321.08M429.58 321.08L430.65 322.15L430.65 323.22L429.58 324.29L427.45 324.29L426.38 323.22M484.84 307.39L486.66 305.89L486.66 312.31M484.84 312.31L488.48 312.31M811.14 153.28L810.07 152.21L810.07 151.14L811.14 150.07L813.28 150.07L814.35 151.14L814.35 152.21L813.28 153.28L811.14 153.28L810.07 154.35L810.07 155.42L811.14 156.49L813.28 156.49L814.35 155.42L814.35 154.35L813.28 153.28M868.54 139.58L870.35 138.08L870.35 144.50M868.54 144.50L872.17 144.50M875.60 144.50L877.74 144.50L878.80 143.43L878.80 139.15L877.74 138.08L875.60 138.08L874.53 139.15L874.53 143.43L875.60 144.50M874.53 143.43L878.80 139.15M868.11 167.40L869.18 168.47L871.32 168.47L872.39 167.40L872.39 163.13L871.32 162.06L869.18 162.06L868.11 163.13L868.11 164.73L869.18 165.80L872.39 165.80M732.14 439.23L733.95 437.73L733.95 444.15M732.14 444.15L735.77 444.15M738.13 438.80L739.20 437.73L741.34 437.73L742.40 438.80L742.40 439.87L741.34 440.94L739.73 440.94M741.34 440.94L742.40 442.01L742.40 443.08L741.34 444.15L739.20 444.15L738.13 443.08M732.14 463.20L733.95 461.71L733.95 468.12M732.14 468.12L735.77 468.12M738.13 462.78L739.20 461.71L741.34 461.71L742.40 462.78L742.40 463.85L738.13 468.12L742.40 468.12M796.59 451.22L798.41 449.72L798.41 456.14M796.59 456.14L800.23 456.14M805.79 456.14L805.79 449.72L802.58 454.21L806.86 454.21M768.19 431.56L761.77 431.56L766.26 434.77L766.26 430.49M763.27 494.57L761.77 492.75L768.19 492.75M768.19 494.57L768.19 490.93M763.27 488.15L761.77 486.33L768.19 486.33M768.19 488.15L768.19 484.51M148.68 498.73L149.75 497.66L151.89 497.66L152.96 498.73L152.96 499.80L148.68 504.08L152.96 504.08M149.11 523.13L150.93 521.64L150.93 528.05M149.11 528.05L152.75 528.05M1073.86 67.24L1074.93 66.17L1077.07 66.17L1078.14 67.24L1078.14 68.31L1073.86 72.59L1078.14 72.59M1074.50 91.64L1076.32 90.14L1076.32 96.56M1074.50 96.56L1078.14 96.56M1073.86 498.73L1074.93 497.66L1077.07 497.66L1078.14 498.73L1078.14 499.80L1073.86 504.08L1078.14 504.08M1074.50 523.13L1076.32 521.64L1076.32 528.05M1074.50 528.05L1078.14 528.05M115.26 312.41L114.19 311.34L114.19 309.20L115.26 308.13L116.33 308.13L117.40 309.20L117.40 310.80M117.40 309.20L118.46 308.13L119.53 308.13L120.60 309.20L120.60 311.34L119.53 312.41M115.68 345.55L114.19 343.73L120.60 343.73M120.60 345.55L120.60 341.91M136.69 318.94L137.76 317.87L139.90 317.87L140.97 318.94L140.97 320.01L136.69 324.29L140.97 324.29M930.60 84.67L929.53 83.60L929.53 81.46L930.60 80.39L931.67 80.39L932.74 81.46L932.74 83.07M932.74 81.46L933.81 80.39L934.88 80.39L935.95 81.46L935.95 83.60L934.88 84.67M931.03 117.82L929.53 116.00L935.95 116.00M935.95 117.82L935.95 114.18M917.98 91.21L919.05 90.14L921.19 90.14L922.26 91.21L922.26 92.28L917.98 96.56L922.26 96.56M1002.55 348.36L1001.48 347.29L1001.48 345.16L1002.55 344.09L1003.62 344.09L1004.68 345.16L1004.68 346.76M1004.68 345.16L1005.75 344.09L1006.82 344.09L1007.89 345.16L1007.89 347.29L1006.82 348.36M1002.97 381.51L1001.48 379.69L1007.89 379.69M1007.89 381.51L1007.89 377.87M989.92 354.90L990.99 353.83L993.13 353.83L994.20 354.90L994.20 355.97L989.92 360.25L994.20 360.25M379.44 488.02L378.38 489.09L378.38 491.23L379.44 492.30L383.72 492.30L384.79 491.23L384.79 489.09L383.72 488.02M378.38 521.78L378.38 526.05L384.79 526.05L384.79 521.78M381.58 526.05L381.58 522.85M365.30 503.48L365.30 497.06L368.51 497.06L369.58 498.13L369.58 499.20L368.51 500.27L365.30 500.27M368.51 500.27L369.58 501.34L369.58 502.41L368.51 503.48L365.30 503.48M427.41 488.02L426.34 489.09L426.34 491.23L427.41 492.30L431.68 492.30L432.75 491.23L432.75 489.09L431.68 488.02M426.34 521.78L426.34 526.05L432.75 526.05L432.75 521.78M429.55 526.05L429.55 522.85M448.04 503.48L448.04 497.06L451.25 497.06L452.32 498.13L452.32 499.20L451.25 500.27L448.04 500.27M451.25 500.27L452.32 501.34L452.32 502.41L451.25 503.48L448.04 503.48M883.04 440.07L881.97 441.14L881.97 443.28L883.04 444.35L887.32 444.35L888.39 443.28L888.39 441.14L887.32 440.07M881.97 473.83L881.97 478.11L888.39 478.11L888.39 473.83M885.18 478.11L885.18 474.90M868.90 455.54L868.90 449.12L872.11 449.12L873.18 450.19L873.18 451.26L872.11 452.33L868.90 452.33M872.11 452.33L873.18 453.40L873.18 454.47L872.11 455.54L868.90 455.54M424.65 137.57L424.65 141.60L430.70 141.60L430.70 137.57M427.67 141.60L427.67 138.57M425.66 174.57L424.65 175.57L424.65 177.59L425.66 178.60L429.69 178.60L430.70 177.59L430.70 175.57L429.69 174.57M438.40 155.40L438.40 149.90L441.15 149.90L442.07 150.82L442.07 151.73L441.15 152.65L438.40 152.65M441.15 152.65L442.07 153.57L442.07 154.48L441.15 155.40L438.40 155.40M921.78 221.58L917.50 221.58L917.50 228.00L921.78 228.00M917.50 224.79L920.71 224.79M951.70 228.00L951.70 223.72L953.84 221.58L955.98 223.72L955.98 228.00M951.70 225.33L955.98 225.33M930.55 212.32L929.48 213.39L929.48 215.53L930.55 216.60L931.62 216.60L933.76 212.32L934.83 212.32L935.90 213.39L935.90 215.53L934.83 216.60"/>
</g>
<g fill="#000"><rect x="376.70" y="148.60" width="19.18" height="2.40"/><rect x="376.70" y="153.39" width="19.18" height="2.40"/><circle cx="386.29" cy="110.24" r="3.00"/><circle cx="386.29" cy="182.16" r="3.00"/><rect x="431.26" y="145.84" width="4.80" height="24.69"/><path d="M423.46 151.00L426.82 145.00L432.34 151.48Z"/><circle cx="542.17" cy="158.19" r="3.00"/><circle cx="638.09" cy="206.13" r="3.00"/><rect x="592.53" y="196.54" width="2.40" height="19.18"/><rect x="597.32" y="196.54" width="2.40" height="19.18"/><circle cx="506.20" cy="266.06" r="3.00"/><circle cx="506.20" cy="314.01" r="3.00"/><circle cx="386.29" cy="325.99" r="3.00"/><rect x="372.50" y="493.44" width="4.80" height="24.69"/><path d="M382.70 512.73L386.53 518.01L380.06 518.01Z"/><rect x="443.25" y="493.44" width="4.80" height="24.69"/><path d="M437.85 512.73L434.01 518.01L440.49 518.01Z"/><circle cx="410.27" cy="529.75" r="3.00"/><rect x="106.50" y="505.18" width="7.73" height="18.94"/><circle cx="254.40" cy="505.78" r="3.00"/><circle cx="314.35" cy="505.78" r="3.00"/><circle cx="122.50" cy="397.91" r="3.00"/><circle cx="158.48" cy="325.99" r="3.00"/><rect x="876.10" y="445.49" width="4.80" height="24.69"/><path d="M886.29 464.79L890.13 470.06L883.65 470.06Z"/><circle cx="889.89" cy="505.78" r="3.00"/><path d="M872.86 552.77L874.66 547.13L878.50 550.97Z"/><path d="M873.46 558.16L875.26 552.53L879.10 556.36Z"/><circle cx="997.80" cy="505.78" r="3.00"/><rect x="1113.99" y="505.18" width="7.73" height="18.94"/><circle cx="698.04" cy="361.95" r="3.00"/><circle cx="793.97" cy="230.10" r="3.00"/><circle cx="1021.78" cy="74.29" r="3.00"/><rect x="1113.99" y="73.69" width="7.73" height="18.94"/><circle cx="937.85" cy="206.13" r="3.00"/><circle cx="901.88" cy="170.17" r="3.00"/><circle cx="901.88" cy="230.10" r="3.00"/></g>
<rect x="2.60" y="2.37" width="1247.00" height="851.01" fill="none" stroke="#000" stroke-width="1.55"/>
</g>
</svg></body></html>
